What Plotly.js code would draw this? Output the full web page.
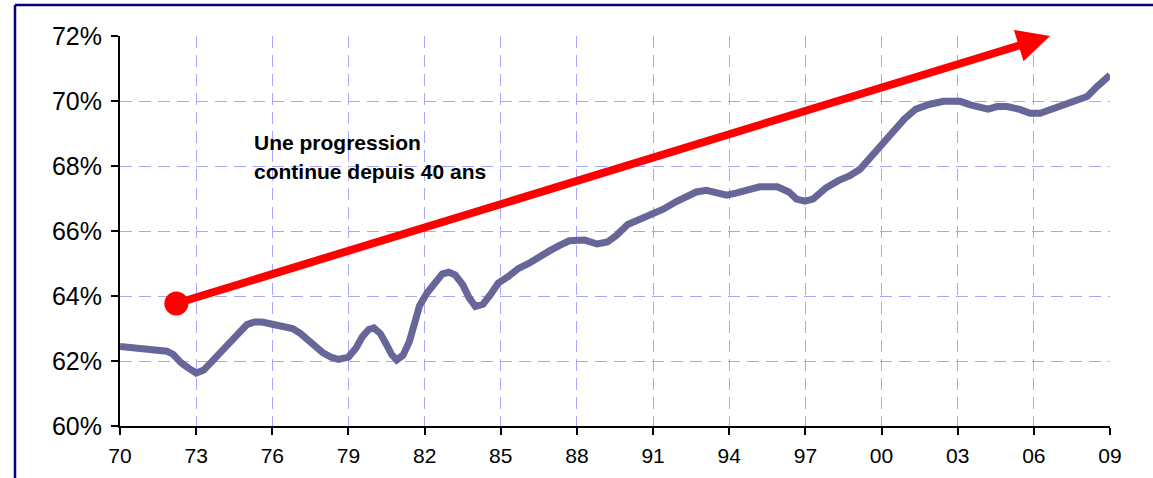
<!DOCTYPE html>
<html>
<head>
<meta charset="utf-8">
<script src="https://cdn.plot.ly/plotly-3.0.1.min.js"></script>
<style>
html,body{margin:0;padding:0;background:#fff;}
#chart{width:1153px;height:478px;}
</style>
</head>
<body>
<div id="chart"></div>
<script>
// Taux d'activité (years as decimal, values in %)
const years = [1970.0,1970.5,1971.0,1971.5,1971.85,1972.1,1972.4,1972.7,1973.0,1973.3,1973.55,1973.8,1974.1,1974.4,1974.65,1975.0,1975.3,1975.6,1976.0,1976.4,1976.8,1977.1,1977.4,1977.65,1978.0,1978.3,1978.6,1979.0,1979.3,1979.55,1979.8,1980.0,1980.25,1980.5,1980.7,1980.9,1981.15,1981.4,1981.6,1981.8,1982.1,1982.4,1982.7,1982.95,1983.2,1983.5,1983.75,1984.0,1984.3,1984.6,1984.9,1985.3,1985.7,1986.1,1986.5,1986.9,1987.3,1987.7,1988.3,1988.8,1989.2,1989.55,1990.0,1990.5,1990.9,1991.4,1991.9,1992.3,1992.7,1993.1,1993.45,1993.9,1994.3,1994.8,1995.2,1995.9,1996.35,1996.65,1996.98,1997.3,1997.8,1998.3,1998.75,1999.15,1999.55,2000.0,2000.35,2000.9,2001.35,2001.9,2002.45,2003.1,2003.5,2003.8,2004.2,2004.55,2004.95,2005.45,2005.85,2006.25,2006.9,2007.45,2008.1,2008.5,2009.0];
const rate = [62.45,62.4,62.35,62.32,62.3,62.2,61.95,61.78,61.63,61.72,61.93,62.1,62.33,62.6,62.85,63.12,63.2,63.2,63.13,63.08,63.0,62.85,62.65,62.45,62.25,62.12,62.05,62.12,62.4,62.75,62.97,63.02,62.85,62.5,62.2,62.03,62.18,62.6,63.1,63.7,64.1,64.4,64.68,64.73,64.65,64.35,63.95,63.68,63.75,64.05,64.4,64.6,64.85,65.0,65.22,65.38,65.55,65.7,65.72,65.6,65.66,65.86,66.2,66.37,66.45,66.67,66.9,67.06,67.2,67.25,67.2,67.1,67.17,67.3,67.36,67.36,67.2,66.98,66.92,66.98,67.32,67.55,67.7,67.9,68.25,68.6,68.97,69.45,69.75,69.9,69.99,69.99,69.88,69.8,69.75,69.83,69.83,69.74,69.62,69.62,69.8,69.94,70.14,70.45,70.8];

const xTickVals = [1970,1973,1976,1979,1982,1985,1988,1991,1994,1997,2000,2003,2006,2009];
const xTickText = ['70','73','76','79','82','85','88','91','94','97','00','03','06','09'];
const yTickVals = [60,62,64,66,68,70,72];
const yTickText = ['60%','62%','64%','66%','68%','70%','72%'];

// Trend arrow (start dot -> arrow tip), in data units
const arrowStart = [1972.22, 63.77];
const arrowEnd = [2006.64, 72.0];

const noteLines = ['Une progression', 'continue depuis 40 ans'];
const noteX = [1975.19, 1975.19];
const noteY = [68.71, 67.83];

const FONT = 'Arial, "Liberation Sans", Helvetica, sans-serif';

const traces = [
  {
    x: years, y: rate, type: 'scatter', mode: 'lines',
    line: {color: '#666699', width: 7, shape: 'linear'},
    cliponaxis: false, hoverinfo: 'skip', showlegend: false
  },
  {
    x: [arrowStart[0]], y: [arrowStart[1]], type: 'scatter', mode: 'markers',
    marker: {color: '#ff0000', size: 24, line: {width: 0}},
    hoverinfo: 'skip', showlegend: false
  }
];

const annotations = [
  {
    x: arrowEnd[0], y: arrowEnd[1], xref: 'x', yref: 'y',
    ax: arrowStart[0], ay: arrowStart[1], axref: 'x', ayref: 'y',
    text: '', showarrow: true, arrowhead: 2, arrowsize: 0.82,
    arrowwidth: 8, arrowcolor: '#ff0000', standoff: 0, startstandoff: 0
  }
];
noteLines.forEach((t, i) => {
  annotations.push({
    x: noteX[i], y: noteY[i], xref: 'x', yref: 'y',
    text: '<b>' + t + '</b>', showarrow: false,
    xanchor: 'left', yanchor: 'middle',
    font: {family: FONT, size: 21, color: '#000'}
  });
});

const L = 120, R = 43, T = 36, B = 52;
const W = 1153, H = 478;
const pw = W - L - R, ph = H - T - B;
const bx = (15 - L) / pw;
const by = 1 + (T - 5) / ph;

const GRID = '#a6a6ff';

const layout = {
  width: W, height: H,
  margin: {l: L, r: R, t: T, b: B, pad: 0},
  paper_bgcolor: '#ffffff', plot_bgcolor: '#ffffff',
  font: {family: FONT, color: '#000'},
  showlegend: false,
  xaxis: {
    range: [1970, 2009], tickmode: 'array', tickvals: xTickVals, ticktext: xTickText,
    showline: true, linecolor: '#000', linewidth: 2,
    ticks: 'outside', ticklen: 7, tickwidth: 2, tickcolor: '#000',
    ticklabelstandoff: 3,
    showgrid: true, gridcolor: GRID, gridwidth: 1, griddash: '12px,7px',
    zeroline: false, tickfont: {family: FONT, size: 21, color: '#000'},
    fixedrange: true
  },
  yaxis: {
    range: [60, 72], tickmode: 'array', tickvals: yTickVals, ticktext: yTickText,
    showline: true, linecolor: '#000', linewidth: 2,
    ticks: 'outside', ticklen: 7, tickwidth: 2, tickcolor: '#000',
    ticklabelstandoff: 4,
    showgrid: true, gridcolor: GRID, gridwidth: 1, griddash: '12px,7px',
    zeroline: false, tickfont: {family: FONT, size: 25, color: '#000'},
    fixedrange: true
  },
  shapes: [
    {type: 'line', xref: 'paper', yref: 'paper', x0: bx, x1: 1.2, y0: by, y1: by,
     line: {color: '#000080', width: 2.5}},
    {type: 'line', xref: 'paper', yref: 'paper', x0: bx, x1: bx, y0: by, y1: -0.3,
     line: {color: '#000080', width: 2.5}}
  ],
  annotations: annotations
};

Plotly.newPlot('chart', traces, layout, {displayModeBar: false, staticPlot: true});
</script>
</body>
</html>
